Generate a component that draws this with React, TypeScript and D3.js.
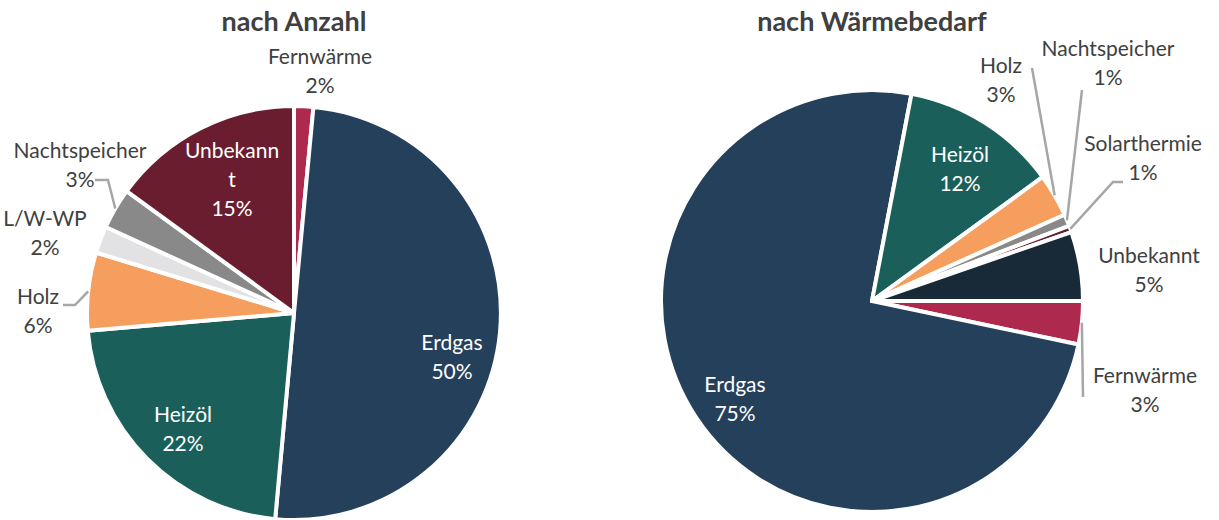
import React from "react";
import * as d3 from "d3";

// ---- Data ----
const leftCategories = ["Fernwärme", "Erdgas", "Heizöl", "Holz", "L/W-WP", "Nachtspeicher", "Unbekannt"];
const leftValues = [1.5, 50.0, 22.2, 6.1, 2.1, 3.2, 15.0];
const leftLabels = ["2%", "50%", "22%", "6%", "2%", "3%", "15%"];

const rightCategories = ["Fernwärme", "Erdgas", "Heizöl", "Holz", "Nachtspeicher", "Solarthermie", "Unbekannt"];
const rightValues = [3.3, 74.7, 12.0, 3.3, 0.9, 0.5, 5.3];
const rightLabels = ["3%", "75%", "12%", "3%", "1%", "1%", "5%"];

const titles = ["nach Anzahl", "nach Wärmebedarf"];

// ---- Styles ----
const colorMap: Record<string, string> = {
  "Fernwärme": "#AD2A4E",
  "Erdgas": "#25405A",
  "Heizöl": "#1A5F5A",
  "Holz": "#F59E5E",
  "L/W-WP": "#E2E2E5",
  "Nachtspeicher": "#898989",
  "Solarthermie": "#6B1D30",
  "Unbekannt": "#6B1D30",
};
const rightColorOverride: Record<string, string> = { "Unbekannt": "#182A38" };

const FONT = "Lato, 'Noto Sans', sans-serif";
const TEXT = "#404040";
const LEADER = "#A6A6A6";

type LabelLayout = {
  dx: number; // label center relative to pie center
  dy: number;
  inside: boolean;
  lines?: string[];
  leader?: [number, number][]; // absolute label-side points (from label end toward slice)
};

const leftLayout: Record<string, LabelLayout> = {
  "Fernwärme": { dx: 26, dy: -240, inside: false },
  "Erdgas": { dx: 158, dy: 46, inside: true },
  "Heizöl": { dx: -111, dy: 118, inside: true },
  "Holz": { dx: -256, dy: 0, inside: false, leader: [[63, 305], [75, 305]] },
  "L/W-WP": { dx: -249, dy: -78, inside: false },
  "Nachtspeicher": { dx: -214, dy: -146, inside: false, leader: [[95, 180], [108, 180]] },
  "Unbekannt": { dx: -62, dy: -131, inside: true, lines: ["Unbekann", "t"] },
};

const rightLayout: Record<string, LabelLayout> = {
  "Fernwärme": { dx: 273, dy: 91, inside: false, leader: [[1083, 397]] },
  "Erdgas": { dx: -137, dy: 100, inside: true },
  "Heizöl": { dx: 88, dy: -130, inside: true },
  "Holz": { dx: 129, dy: -219, inside: false, leader: [[1032, 68]] },
  "Nachtspeicher": { dx: 236, dy: -236, inside: false, leader: [[1082, 90]] },
  "Solarthermie": { dx: 271, dy: -141, inside: false, leader: [[1123, 182], [1113, 182]] },
  "Unbekannt": { dx: 277, dy: -29, inside: false },
};

const pies = [
  {
    title: titles[0], titleX: 294, cx: 294, cy: 313, r: 207, start: 0,
    cats: leftCategories, vals: leftValues, labs: leftLabels, layout: leftLayout, override: {} as Record<string, string>,
  },
  {
    title: titles[1], titleX: 872, cx: 872, cy: 301, r: 211, start: Math.PI / 2,
    cats: rightCategories, vals: rightValues, labs: rightLabels, layout: rightLayout, override: rightColorOverride,
  },
];

const LINE_H = 29;
const FS = 21;

function PieChart({ p }: { p: (typeof pies)[number] }) {
  const data = p.cats.map((c, i) => ({ cat: c, value: p.vals[i], label: p.labs[i] }));
  const pie = d3
    .pie<(typeof data)[number]>()
    .sort(null)
    .value((d) => d.value)
    .startAngle(p.start)
    .endAngle(p.start + 2 * Math.PI);
  const arcs = pie(data);
  const arc = d3.arc<d3.PieArcDatum<(typeof data)[number]>>().innerRadius(0).outerRadius(p.r);

  return (
    <g>
      <text x={p.titleX} y={24} textAnchor="middle" dominantBaseline="middle" fontFamily={FONT} fontWeight="bold" fontSize={27} fill={TEXT}>
        {p.title}
      </text>
      <g transform={`translate(${p.cx},${p.cy})`}>
        {arcs.map((a, i) => (
          <path key={i} d={arc(a) || ""} fill={p.override[a.data.cat] || colorMap[a.data.cat]} stroke="#fff" strokeWidth={4} strokeLinejoin="round" />
        ))}
      </g>
      {arcs.map((a, i) => {
        const lay = p.layout[a.data.cat];
        if (!lay || !lay.leader) return null;
        const mid = (a.startAngle + a.endAngle) / 2;
        const px = p.cx + Math.sin(mid) * p.r;
        const py = p.cy - Math.cos(mid) * p.r;
        const pts: [number, number][] = [...lay.leader, [px, py]];
        return <path key={"l" + i} d={d3.line()(pts) || ""} fill="none" stroke={LEADER} strokeWidth={2.5} />;
      })}
      {arcs.map((a, i) => {
        const lay = p.layout[a.data.cat];
        const lines = [...(lay.lines || [a.data.cat]), a.data.label];
        const x = p.cx + lay.dx;
        const cy = p.cy + lay.dy;
        const y0 = cy - ((lines.length - 1) * LINE_H) / 2;
        return (
          <text key={"t" + i} textAnchor="middle" fontFamily={FONT} fontSize={FS} fill={lay.inside ? "#ffffff" : TEXT}>
            {lines.map((ln, j) => (
              <tspan key={j} x={x} y={y0 + j * LINE_H} dominantBaseline="middle">
                {ln}
              </tspan>
            ))}
          </text>
        );
      })}
    </g>
  );
}

export default function App() {
  return (
    <svg width={1219} height={520} style={{ position: "absolute", left: 0, top: 0, background: "#fff" }}>
      <rect width={1219} height={520} fill="#fff" />
      {pies.map((p, i) => (
        <PieChart key={i} p={p} />
      ))}
    </svg>
  );
}
